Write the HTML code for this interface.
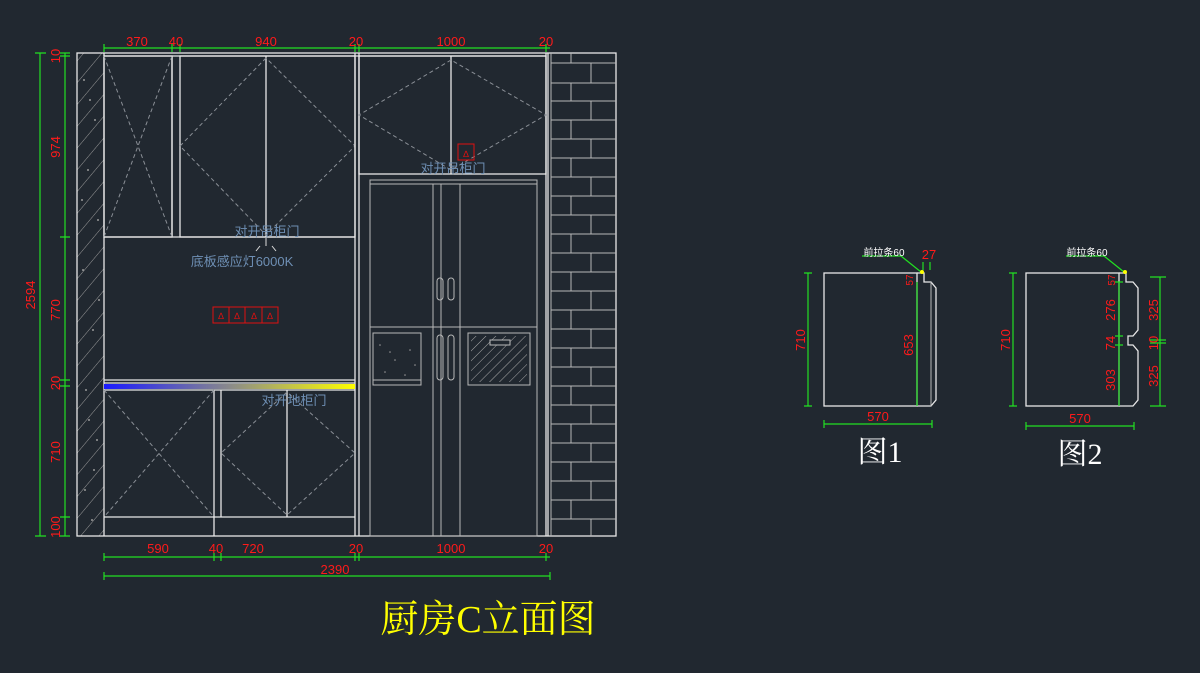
<!DOCTYPE html>
<html><head><meta charset="utf-8"><style>
html,body{margin:0;padding:0;background:#212830;}
svg{display:block}
text{font-family:"Liberation Sans","Noto Sans CJK SC",sans-serif}
.r{fill:#ff1a1a;font-size:13px;font-family:"Liberation Sans Narrow","Liberation Sans",sans-serif}
.g{stroke:#22e022;stroke-width:1.2;fill:none}
.w{stroke:#e8e8e8;stroke-width:1.3;fill:none}
.gr{stroke:#b8b8b8;stroke-width:1;fill:none}
.d{stroke:#8a8f96;stroke-width:1;fill:none;stroke-dasharray:4 3}
.b{fill:#6e8fb4;font-size:13px}
</style></head><body>
<svg width="1200" height="673" viewBox="0 0 1200 673" xmlns="http://www.w3.org/2000/svg">
<defs>
<pattern id="hat" width="14" height="14" patternUnits="userSpaceOnUse" patternTransform="rotate(40)">
<line x1="0" y1="0" x2="0" y2="14" stroke="#9a9a9a" stroke-width="1"/></pattern>
<pattern id="hat2" width="7" height="7" patternUnits="userSpaceOnUse" patternTransform="rotate(45)">
<line x1="0" y1="0" x2="0" y2="7" stroke="#aaa" stroke-width="1"/></pattern>
<linearGradient id="grad" x1="0" x2="1"><stop offset="0" stop-color="#1a1aff"/><stop offset="0.5" stop-color="#8a8a8a"/><stop offset="1" stop-color="#ffff00"/></linearGradient>
</defs>
<rect x="77" y="53" width="27" height="483" fill="url(#hat)"/>
<g fill="#999">
<circle cx="84" cy="80" r="1"/><circle cx="95" cy="120" r="1"/><circle cx="88" cy="170" r="1"/><circle cx="98" cy="220" r="1"/><circle cx="83" cy="270" r="1"/><circle cx="93" cy="330" r="1"/><circle cx="86" cy="390" r="1"/><circle cx="97" cy="440" r="1"/><circle cx="85" cy="490" r="1"/><circle cx="92" cy="520" r="1"/>
<circle cx="90" cy="100" r="1"/><circle cx="82" cy="200" r="1"/><circle cx="99" cy="300" r="1"/><circle cx="89" cy="420" r="1"/><circle cx="94" cy="470" r="1"/>
</g>
<rect x="77" y="53" width="539" height="483" class="w"/>
<line x1="104" y1="53" x2="104" y2="536" class="w"/>
<rect x="104" y="56" width="68" height="181" class="w"/>
<rect x="180" y="56" width="175" height="181" class="w"/>
<line x1="172" y1="56" x2="172" y2="237" class="w"/>
<line x1="266" y1="56" x2="266" y2="237" class="w"/>
<polyline points="104,56 138,146 104,237" class="d"/><polyline points="172,56 138,146 172,237" class="d"/>
<polyline points="266,58 180,146 266,235 355,146 266,58" class="d"/>
<line x1="104" y1="237" x2="355" y2="237" class="w"/>
<line x1="355" y1="53" x2="355" y2="536" class="w"/>
<line x1="359" y1="53" x2="359" y2="536" class="w"/>
<line x1="546" y1="53" x2="546" y2="536" class="w"/>
<line x1="548" y1="53" x2="548" y2="536" class="w"/>
<line x1="104" y1="56" x2="546" y2="56" class="w"/>
<rect x="359" y="56" width="187" height="118" class="w"/>
<line x1="451" y1="56" x2="451" y2="174" class="w"/>
<polyline points="451,60 359,115 451,170 546,115 451,60" class="d"/>
<rect x="458" y="144" width="16" height="16" fill="none" stroke="#e01010"/>
<text x="466" y="157" font-size="9" fill="#e01010" text-anchor="middle">∆</text>
<text x="453" y="173" class="b" text-anchor="middle">对开吊柜门</text>
<g class="gr">
<rect x="370" y="180" width="167" height="356"/><line x1="370" y1="184" x2="537" y2="184"/>
<line x1="433" y1="184" x2="433" y2="536"/><line x1="441" y1="184" x2="441" y2="536"/><line x1="460" y1="184" x2="460" y2="536"/>
<line x1="370" y1="327" x2="537" y2="327"/>
<rect x="437" y="278" width="6" height="22" rx="3"/><rect x="448" y="278" width="6" height="22" rx="3"/>
<rect x="437" y="335" width="6" height="45" rx="3"/><rect x="448" y="335" width="6" height="45" rx="3"/>
<rect x="373" y="333" width="48" height="52"/><line x1="373" y1="380" x2="421" y2="380"/>
<rect x="468" y="333" width="62" height="52"/>
</g>
<rect x="471" y="336" width="56" height="46" fill="url(#hat2)"/>
<rect x="490" y="340" width="20" height="5" fill="#212830" stroke="#bbb"/>
<g fill="#999"><circle cx="380" cy="345" r="0.8"/><circle cx="395" cy="360" r="0.8"/><circle cx="410" cy="350" r="0.8"/><circle cx="385" cy="372" r="0.8"/><circle cx="405" cy="375" r="0.8"/><circle cx="415" cy="365" r="0.8"/><circle cx="390" cy="352" r="0.8"/></g>
<text x="267" y="236" class="b" text-anchor="middle">对开吊柜门</text>
<path d="M266 238 V246 M260 246 L256 251 M272 246 L276 251" stroke="#ddd"/>
<text x="242" y="266" class="b" text-anchor="middle">底板感应灯6000K</text>
<g stroke="#e01010" fill="none"><rect x="213" y="307" width="65" height="16"/><line x1="229" y1="307" x2="229" y2="323"/><line x1="245" y1="307" x2="245" y2="323"/><line x1="262" y1="307" x2="262" y2="323"/></g>
<g fill="#e01010" font-size="9" text-anchor="middle"><text x="221" y="319">∆</text><text x="237" y="319">∆</text><text x="254" y="319">∆</text><text x="270" y="319">∆</text></g>
<line x1="104" y1="380" x2="355" y2="380" class="w"/>
<line x1="104" y1="383" x2="355" y2="383" class="w"/>
<rect x="104" y="384" width="251" height="5" fill="url(#grad)"/>
<line x1="104" y1="390" x2="355" y2="390" class="w"/>
<line x1="214" y1="390" x2="214" y2="536" class="w"/><line x1="221" y1="390" x2="221" y2="517" class="w"/>
<line x1="287" y1="390" x2="287" y2="517" class="w"/>
<line x1="104" y1="517" x2="355" y2="517" class="w"/>
<polyline points="104,390 214,517" class="d"/><polyline points="214,390 104,517" class="d"/>
<polyline points="287,392 221,453 287,515 355,453 287,392" class="d"/>
<text x="294" y="405" class="b" text-anchor="middle">对开地柜门</text>
<g class="gr">
<line x1="551" y1="53" x2="551" y2="536"/>
<line x1="551" y1="63" x2="616" y2="63"/><line x1="551" y1="83" x2="616" y2="83"/><line x1="551" y1="101" x2="616" y2="101"/><line x1="551" y1="120" x2="616" y2="120"/><line x1="551" y1="139" x2="616" y2="139"/><line x1="551" y1="158" x2="616" y2="158"/><line x1="551" y1="177" x2="616" y2="177"/><line x1="551" y1="196" x2="616" y2="196"/><line x1="551" y1="215" x2="616" y2="215"/><line x1="551" y1="234" x2="616" y2="234"/><line x1="551" y1="253" x2="616" y2="253"/><line x1="551" y1="272" x2="616" y2="272"/><line x1="551" y1="291" x2="616" y2="291"/><line x1="551" y1="310" x2="616" y2="310"/><line x1="551" y1="329" x2="616" y2="329"/><line x1="551" y1="348" x2="616" y2="348"/><line x1="551" y1="367" x2="616" y2="367"/><line x1="551" y1="386" x2="616" y2="386"/><line x1="551" y1="405" x2="616" y2="405"/><line x1="551" y1="424" x2="616" y2="424"/><line x1="551" y1="443" x2="616" y2="443"/><line x1="551" y1="462" x2="616" y2="462"/><line x1="551" y1="481" x2="616" y2="481"/><line x1="551" y1="500" x2="616" y2="500"/><line x1="551" y1="519" x2="616" y2="519"/>
<path d="M571 53V63 M591 63V83 M571 83V101 M591 101V120 M571 120V139 M591 139V158 M571 158V177 M591 177V196 M571 196V215 M591 215V234 M571 234V253 M591 253V272 M571 272V291 M591 291V310 M571 310V329 M591 329V348 M571 348V367 M591 367V386 M571 386V405 M591 405V424 M571 424V443 M591 443V462 M571 462V481 M591 481V500 M571 500V519 M591 519V536"/>
</g>
<g class="g"><line x1="104" y1="48" x2="550" y2="48"/>
<path d="M104 44V52 M172 44V52 M180 44V52 M355 44V52 M359 44V52 M546 44V52"/></g>
<g class="r" text-anchor="middle"><text x="137" y="46">370</text><text x="176" y="46">40</text><text x="266" y="46">940</text><text x="356" y="46">20</text><text x="451" y="46">1000</text><text x="546" y="46">20</text></g>
<g class="g"><line x1="40" y1="53" x2="40" y2="536"/><path d="M35 53H46 M35 536H46"/>
<line x1="65" y1="53" x2="65" y2="536"/><path d="M60 53H70 M60 56H70 M60 237H70 M60 380H70 M60 386H70 M60 517H70 M60 536H70"/></g>
<g class="r" text-anchor="middle">
<text transform="translate(35,295) rotate(-90)">2594</text>
<text transform="translate(60,56) rotate(-90)">10</text>
<text transform="translate(60,147) rotate(-90)">974</text>
<text transform="translate(60,310) rotate(-90)">770</text>
<text transform="translate(60,383) rotate(-90)">20</text>
<text transform="translate(60,452) rotate(-90)">710</text>
<text transform="translate(60,527) rotate(-90)">100</text></g>
<g class="g"><line x1="104" y1="557" x2="550" y2="557"/><path d="M104 553V561 M214 553V561 M221 553V561 M355 553V561 M359 553V561 M546 553V561"/>
<line x1="104" y1="576" x2="550" y2="576"/><path d="M104 572V580 M550 572V580"/></g>
<g class="r" text-anchor="middle"><text x="158" y="553">590</text><text x="216" y="553">40</text><text x="253" y="553">720</text><text x="356" y="553">20</text><text x="451" y="553">1000</text><text x="546" y="553">20</text><text x="335" y="574">2390</text></g>
<text x="488" y="632" fill="#ffff00" font-size="38" text-anchor="middle" style="font-family:'Liberation Serif','Noto Serif CJK SC',serif">厨房C立面图</text>
<rect x="824" y="273" width="93" height="133" class="w"/>
<path d="M917 273 H924 V282 H931 L936 288 V400 L931 406 H917" class="w"/>
<line x1="931" y1="282" x2="931" y2="406" class="gr"/>
<g class="g"><line x1="808" y1="273" x2="808" y2="406"/><path d="M804 273H812 M804 406H812"/>
<line x1="917" y1="282" x2="917" y2="406"/><line x1="824" y1="424" x2="932" y2="424"/><path d="M824 420V428 M932 420V428"/>
<path d="M862 256H901 L921 272"/><path d="M923 262V270 M930 262V270"/></g>
<circle cx="922" cy="272" r="2" fill="#ff0"/>
<text x="884" y="256" fill="#fff" font-size="10" text-anchor="middle">前拉条60</text>
<g class="r" text-anchor="middle"><text x="929" y="259">27</text><text transform="translate(913,280) rotate(-90)" font-size="10">57</text><text transform="translate(913,345) rotate(-90)">653</text><text transform="translate(805,340) rotate(-90)">710</text><text x="878" y="421">570</text></g>
<text x="880" y="462" fill="#fff" font-size="30" text-anchor="middle" style="font-family:'Liberation Serif','Noto Serif CJK SC',serif">图1</text>
<rect x="1026" y="273" width="93" height="133" class="w"/>
<path d="M1119 273 H1126 V282 H1133 L1138 288 V330 L1133 336 H1128 V345 H1133 L1138 351 V400 L1133 406 H1119" class="w"/>
<g class="g"><line x1="1013" y1="273" x2="1013" y2="406"/><path d="M1009 273H1017 M1009 406H1017"/>
<line x1="1119" y1="282" x2="1119" y2="406"/><path d="M1115 282H1123 M1115 336H1123 M1115 345H1123"/>
<line x1="1160" y1="277" x2="1160" y2="406"/><path d="M1150 277H1166 M1150 340H1166 M1150 343H1166 M1150 406H1166"/>
<line x1="1026" y1="426" x2="1134" y2="426"/><path d="M1026 422V430 M1134 422V430"/>
<path d="M1066 256H1104 L1124 272"/></g>
<circle cx="1125" cy="272" r="2" fill="#ff0"/>
<text x="1087" y="256" fill="#fff" font-size="10" text-anchor="middle">前拉条60</text>
<g class="r" text-anchor="middle"><text transform="translate(1115,280) rotate(-90)" font-size="10">57</text><text transform="translate(1115,310) rotate(-90)">276</text><text transform="translate(1115,343) rotate(-90)">74</text><text transform="translate(1115,380) rotate(-90)">303</text>
<text transform="translate(1010,340) rotate(-90)">710</text>
<text transform="translate(1158,310) rotate(-90)">325</text><text transform="translate(1158,343) rotate(-90)">10</text><text transform="translate(1158,376) rotate(-90)">325</text><text x="1080" y="423">570</text></g>
<text x="1080" y="464" fill="#fff" font-size="30" text-anchor="middle" style="font-family:'Liberation Serif','Noto Serif CJK SC',serif">图2</text>
</svg>
</body></html>
